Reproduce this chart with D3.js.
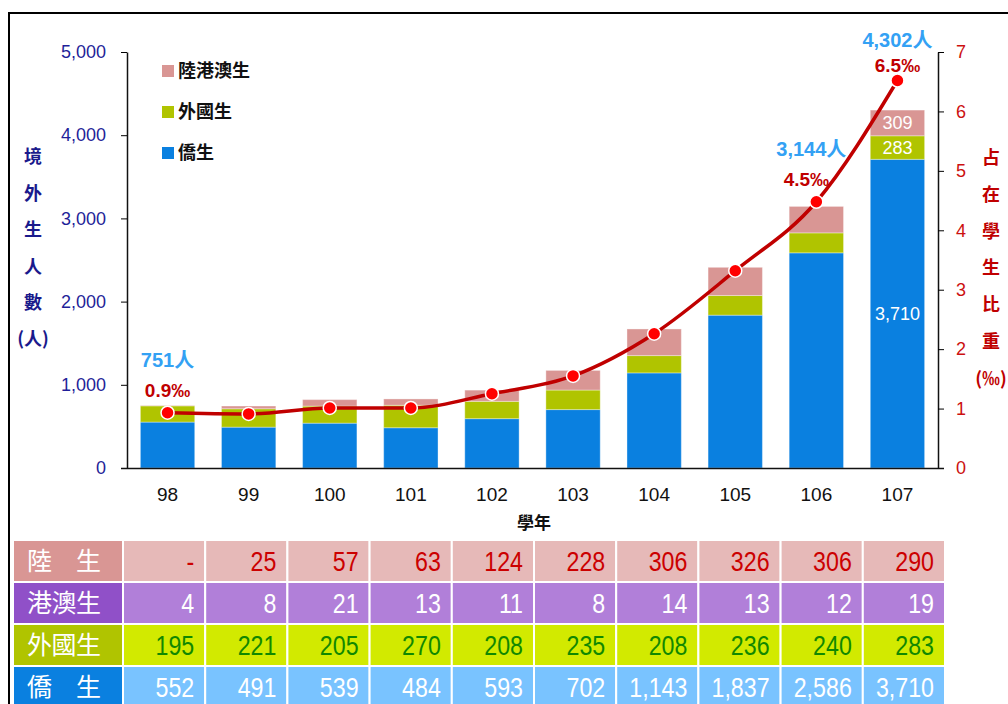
<!DOCTYPE html>
<html>
<head>
<meta charset="utf-8">
<script src="https://cdn.jsdelivr.net/npm/d3@7"></script>
<style>
  body { margin: 0; background: #fff; }
  svg { display: block; }
  text { font-family: "Liberation Sans", Arial, "Noto Sans CJK TC", sans-serif; }
  .cjk { font-family: "Noto Sans CJK TC", sans-serif; }
</style>
</head>
<body>
<svg id="chart" width="1008" height="704"></svg>
<script>
// 學年
var years = ["98", "99", "100", "101", "102", "103", "104", "105", "106", "107"];
// 陸生 (null = "-"), 港澳生, 外國生, 僑生
var mainland = [null, 25, 57, 63, 124, 228, 306, 326, 306, 290];
var hkMacau = [4, 8, 21, 13, 11, 8, 14, 13, 12, 19];
var foreign = [195, 221, 205, 270, 208, 235, 208, 236, 240, 283];
var overseas = [552, 491, 539, 484, 593, 702, 1143, 1837, 2586, 3710];
// 占在學生比重 (‰)
var ratio = [0.93, 0.91, 1.01, 1.01, 1.25, 1.55, 2.26, 3.32, 4.48, 6.52];
// which years get the total / ratio call-outs
var labelIdx = [0, 8, 9];

var yTicks = [0, 1000, 2000, 3000, 4000, 5000];
var y2Ticks = [0, 1, 2, 3, 4, 5, 6, 7];
var leftTitle = ["境", "外", "生", "人", "數", "(人)"];
var rightTitle = ["占", "在", "學", "生", "比", "重", "(‰)"];
var legendNames = ["陸港澳生", "外國生", "僑生"];
var rowNames = ["陸　生", "港澳生", "外國生", "僑　生"];

var svg = d3.select("#chart");

// outer frame (left + top edges only show)
svg.append("path")
    .attr("d", "M9,704 V13 H1008")
    .attr("fill", "none")
    .attr("stroke", "#000")
    .attr("stroke-width", 2);

// stacked rows: 僑生, 外國生, 陸港澳生
var rows = years.map(function(yr, i) {
    return {
        year: yr,
        overseas: overseas[i],
        foreign: foreign[i],
        chinaHkMo: (mainland[i] || 0) + hkMacau[i]
    };
});
var keys = ["overseas", "foreign", "chinaHkMo"];
var colors = {overseas: "#0a80e0", foreign: "#b0c400", chinaHkMo: "#d99694"};
var series = d3.stack().keys(keys)(rows);

var x = d3.scaleBand().domain(years).range([127, 938]).paddingInner(0.33).paddingOuter(0.165);
var y = d3.scaleLinear().domain([0, 5000]).range([468, 52]);
var y2 = d3.scaleLinear().domain([0, 7]).range([468, 52]);

// bars
var layer = svg.append("g").selectAll("g")
    .data(series)
    .enter().append("g")
    .attr("fill", function(d) { return colors[d.key]; });

layer.selectAll("rect")
    .data(function(d) { return d; })
    .enter().append("rect")
    .attr("x", function(d) { return x(d.data.year); })
    .attr("y", function(d) { return y(d[1]); })
    .attr("width", x.bandwidth())
    .attr("height", function(d) { return y(d[0]) - y(d[1]); })
    .attr("stroke", "rgba(255,255,255,0.35)")
    .attr("stroke-width", 1);

// segment values on the last bar
var last = years.length - 1;
svg.append("g").selectAll("text")
    .data(series)
    .enter().append("text")
    .attr("x", x(years[last]) + x.bandwidth() / 2)
    .attr("y", function(d) { return (y(d[last][0]) + y(d[last][1])) / 2; })
    .attr("dy", "0.35em")
    .attr("text-anchor", "middle")
    .attr("font-size", 18)
    .attr("fill", "#fff")
    .text(function(d) { return d3.format(",")(d[last][1] - d[last][0]); });

// left axis
var gy = svg.append("g")
    .attr("transform", "translate(127,0)")
    .call(d3.axisLeft(y).tickValues(yTicks).tickSize(6).tickSizeOuter(0).tickPadding(15).tickFormat(d3.format(",")));
gy.selectAll("text").attr("font-size", 18).attr("fill", "#1f1f99");

// right axis
var gy2 = svg.append("g")
    .attr("transform", "translate(938,0)")
    .call(d3.axisRight(y2).tickValues(y2Ticks).tickSize(6).tickSizeOuter(0).tickPadding(12).tickFormat(d3.format("d")));
gy2.selectAll("text").attr("font-size", 18).attr("fill", "#cc1010");

// bottom axis
var gx = svg.append("g")
    .attr("transform", "translate(0,468)")
    .call(d3.axisBottom(x).tickSize(0).tickPadding(20));
gx.select(".domain").attr("d", "M121,0.5H944");
gx.selectAll("text").attr("font-size", 19).attr("fill", "#111");
svg.selectAll(".domain").attr("stroke", "#111").attr("stroke-width", 1.5);

svg.append("text")
    .attr("class", "cjk")
    .attr("x", 534)
    .attr("y", 529)
    .attr("text-anchor", "middle")
    .attr("font-size", 17)
    .attr("font-weight", "bold")
    .attr("fill", "#111")
    .text("學年");

// axis titles, one character per line
svg.append("g").selectAll("text")
    .data(leftTitle)
    .enter().append("text")
    .attr("class", "cjk")
    .attr("x", 33)
    .attr("y", function(d, i) { return 157 + i * 36.4; })
    .attr("dy", "0.35em")
    .attr("text-anchor", "middle")
    .attr("font-size", 18)
    .attr("font-weight", "bold")
    .attr("fill", "#1a1a8c")
    .text(function(d) { return d; });

svg.append("g").selectAll("text")
    .data(rightTitle)
    .enter().append("text")
    .attr("class", "cjk")
    .attr("x", 991)
    .attr("y", function(d, i) { return 158 + i * 36.7; })
    .attr("dy", "0.35em")
    .attr("text-anchor", "middle")
    .attr("font-size", 18)
    .attr("font-weight", "bold")
    .attr("fill", "#c00000")
    .text(function(d) { return d; });

// legend
var legend = svg.append("g").selectAll("g")
    .data(legendNames)
    .enter().append("g")
    .attr("transform", function(d, i) { return "translate(162," + (71 + i * 41) + ")"; });
legend.append("rect")
    .attr("x", 0).attr("y", -6).attr("width", 12).attr("height", 12)
    .attr("fill", function(d, i) { return colors[keys[2 - i]]; });
legend.append("text")
    .attr("class", "cjk")
    .attr("x", 16)
    .attr("dy", "0.35em")
    .attr("font-size", 18)
    .attr("font-weight", "bold")
    .attr("fill", "#111")
    .text(function(d) { return d; });

// ratio line
var cx = function(d, i) { return x(years[i]) + x.bandwidth() / 2; };
var line = d3.line()
    .curve(d3.curveMonotoneX)
    .x(cx)
    .y(function(d) { return y2(d); });

svg.append("path")
    .datum(ratio)
    .attr("d", line)
    .attr("fill", "none")
    .attr("stroke", "#c00000")
    .attr("stroke-width", 3.5);

svg.append("g").selectAll("circle")
    .data(ratio)
    .enter().append("circle")
    .attr("cx", cx)
    .attr("cy", function(d) { return y2(d); })
    .attr("r", 6.5)
    .attr("fill", "#ff0000")
    .attr("stroke", "#fff")
    .attr("stroke-width", 1.5);

// call-outs: total count and ratio
var ratioY = function(i) { return Math.max(y2(ratio[i]) - 16, 72); };
var callouts = svg.append("g").selectAll("g")
    .data(labelIdx)
    .enter().append("g");
callouts.append("text")
    .attr("x", function(i) { return x(years[i]) + x.bandwidth() / 2 - (i === 8 ? 10 : 0); })
    .attr("y", ratioY)
    .attr("text-anchor", "middle")
    .attr("font-size", 19)
    .attr("font-weight", "bold")
    .attr("fill", "#c00000")
    .text(function(i) { return d3.format(".1f")(ratio[i]) + "‰"; });
callouts.append("text")
    .attr("x", function(i) { return x(years[i]) + x.bandwidth() / 2 - (i === 8 ? 5 : 0); })
    .attr("y", function(i) { return Math.max(ratioY(i) - 30, 47); })
    .attr("text-anchor", "middle")
    .attr("font-size", 20)
    .attr("font-weight", "bold")
    .attr("fill", "#33a1f4")
    .text(function(i) {
        var total = overseas[i] + foreign[i] + hkMacau[i] + (mainland[i] || 0);
        return d3.format(",")(total) + "人";
    });

// data table under the chart
var tableRows = [
    {name: rowNames[0], values: mainland, head: "#d99694", cell: "#e6b9b8", ink: "#cc0000"},
    {name: rowNames[1], values: hkMacau, head: "#9050c8", cell: "#b17fd9", ink: "#fff"},
    {name: rowNames[2], values: foreign, head: "#b0c400", cell: "#d2ea00", ink: "#118800"},
    {name: rowNames[3], values: overseas, head: "#0a80e0", cell: "#79c3ff", ink: "#fff"}
];
var col = d3.scaleBand().domain(years).range([123, 945]);
var row = d3.scaleBand().domain(d3.range(tableRows.length)).range([540, 708]);

var tr = svg.append("g").selectAll("g")
    .data(tableRows)
    .enter().append("g")
    .attr("transform", function(d, i) { return "translate(0," + row(i) + ")"; });

tr.append("rect")
    .attr("x", 13).attr("y", 0)
    .attr("width", 110).attr("height", row.bandwidth())
    .attr("fill", function(d) { return d.head; })
    .attr("stroke", "#fff").attr("stroke-width", 2);

tr.append("text")
    .attr("class", "cjk")
    .attr("x", 27)
    .attr("y", row.bandwidth() / 2)
    .attr("dy", "0.36em")
    .attr("font-size", 25)
    .attr("textLength", 74)
    .attr("lengthAdjust", "spacing")
    .attr("fill", "#fff")
    .text(function(d) { return d.name; });

var cells = tr.selectAll("g.cell")
    .data(function(d) {
        return d.values.map(function(v, i) { return {v: v, year: years[i], r: d}; });
    })
    .enter().append("g")
    .attr("class", "cell");

cells.append("rect")
    .attr("x", function(d) { return col(d.year); })
    .attr("y", 0)
    .attr("width", col.bandwidth())
    .attr("height", row.bandwidth())
    .attr("fill", function(d) { return d.r.cell; })
    .attr("stroke", "#fff").attr("stroke-width", 2);

cells.append("text")
    .attr("transform", function(d) {
        return "translate(" + (col(d.year) + col.bandwidth() - 11) + "," + (row.bandwidth() / 2 + 10) + ") scale(0.86,1)";
    })
    .attr("text-anchor", "end")
    .attr("font-size", 27)
    .attr("fill", function(d) { return d.r.ink; })
    .text(function(d) { return d.v == null ? "-" : d3.format(",")(d.v); });
</script>
</body>
</html>
